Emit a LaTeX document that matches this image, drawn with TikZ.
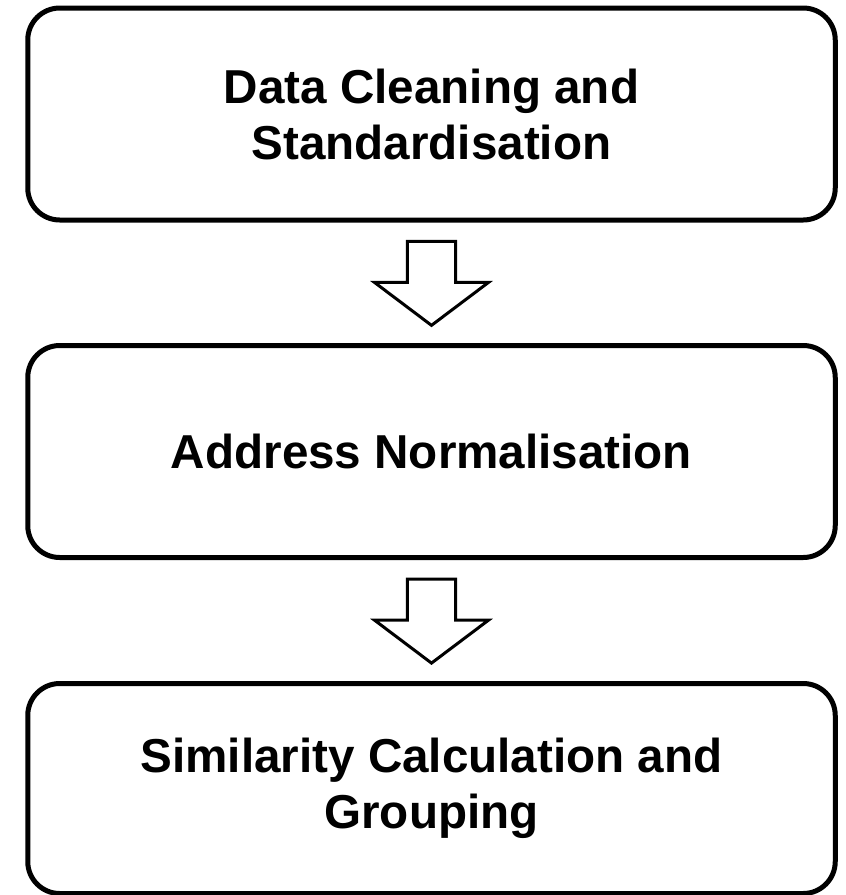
\documentclass[tikz,border=0pt]{standalone}
\usepackage{fontspec}
\setmainfont{Liberation Sans}
\usepackage{tikz}
\usetikzlibrary{shapes.arrows,positioning}

\begin{document}
\begin{tikzpicture}[
    node distance=63pt,
    box/.style={rectangle, draw, line width=2.5pt, rounded corners=16pt, minimum width=403.75pt, minimum height=106pt, outer sep=0pt, align=center, font=\fontsize{23.8pt}{28pt}\selectfont\bfseries},
    flowarrow/.style={single arrow, draw, line width=1.5pt, shape border rotate=270, minimum height=42pt, minimum width=57pt, single arrow head extend=16pt, single arrow tip angle=106, inner sep=11pt, yshift=4.25pt},
  ]
    \useasboundingbox (0,0) rectangle (423pt,-447.5pt);

    \node[box] (clean) at (215.75pt,-57pt) {Data Cleaning and\\Standardisation};
    \node[box, below=62.75pt of clean] (norm) {Address Normalisation};
    \node[box, below=of norm, minimum height=105pt] (group) {Similarity Calculation and\\Grouping};

    \path (clean) -- (norm) node[midway, flowarrow] (step1) {};
    \path (norm) -- (group) node[midway, flowarrow] (step2) {};
  \end{tikzpicture}
\end{document}
